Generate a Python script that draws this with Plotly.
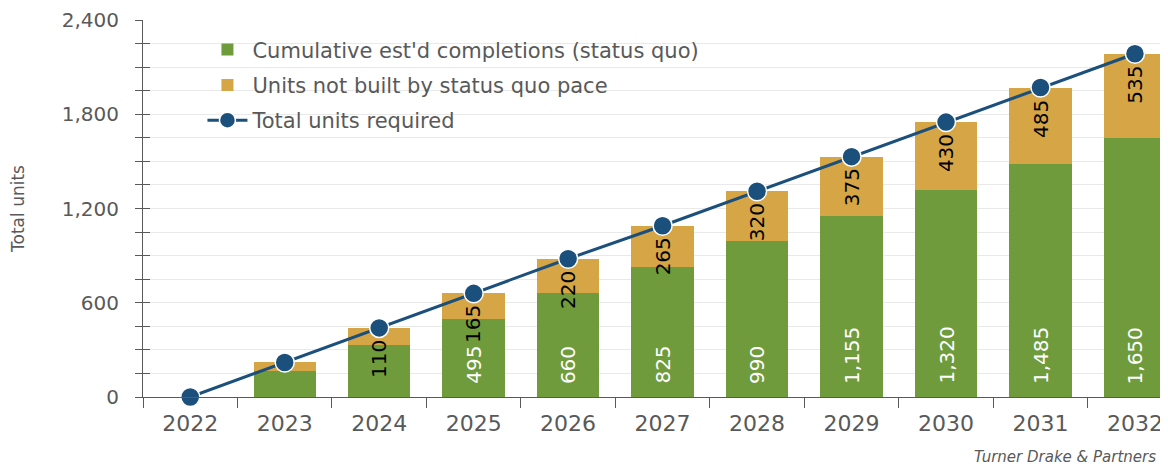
import plotly.graph_objects as go

years = ["2022", "2023", "2024", "2025", "2026", "2027", "2028", "2029", "2030", "2031", "2032"]
completions = [0, 165, 330, 495, 660, 825, 990, 1155, 1320, 1485, 1650]
not_built = [0, 55, 110, 165, 220, 265, 320, 375, 430, 485, 535]
required = [0, 220, 440, 660, 880, 1090, 1310, 1530, 1750, 1970, 2185]
completions_labels = ["", "", "", "495", "660", "825", "990", "1,155", "1,320", "1,485", "1,650"]
not_built_labels = ["", "", "110", "165", "220", "265", "320", "375", "430", "485", "535"]

green = "#6f9b3d"
gold = "#d5a546"
navy = "#1b4f7c"
grey = "#595959"
font = "DejaVu Sans, sans-serif"

fig = go.Figure()

fig.add_trace(
    go.Bar(
        x=years,
        y=completions,
        name="Cumulative est'd completions (status quo)",
        marker=dict(color=green, line=dict(width=0)),
        legendgroup="a"
    )
)

fig.add_trace(
    go.Bar(
        x=years,
        y=not_built,
        name="Units not built by status quo pace",
        marker=dict(color=gold, line=dict(width=0)),
        legendgroup="b"
    )
)

fig.add_trace(
    go.Scatter(
        x=years,
        y=required,
        mode="lines+markers",
        name="Total units required",
        line=dict(color=navy, width=3),
        marker=dict(color=navy, size=19, line=dict(color="white", width=1.5)),
        cliponaxis=False,
        legendgroup="c"
    )
)

# invisible trace so the overlay axis draws its inside ticks
fig.add_trace(
    go.Scatter(x=[years[0]], y=[0], yaxis="y2", mode="markers",
               marker=dict(opacity=0), showlegend=False, hoverinfo="skip")
)

# value labels, rotated (category axis -> annotation x is the index)
for i, yr in enumerate(years):
    if completions_labels[i]:
        fig.add_annotation(
            x=i, y=0, text=completions_labels[i],
            textangle=-90, showarrow=False,
            xanchor="center", yanchor="bottom", yshift=11,
            font=dict(family=font, size=20, color="white")
        )
    if not_built_labels[i]:
        fig.add_annotation(
            x=i, y=completions[i] + not_built[i], text=not_built_labels[i],
            textangle=-90, showarrow=False,
            xanchor="center", yanchor="top", yshift=-10,
            font=dict(family=font, size=20, color="black")
        )

fig.add_annotation(
    text="<i>Turner Drake & Partners</i>",
    xref="paper", yref="paper",
    x=0.99, y=-0.158,
    xanchor="right", yanchor="middle",
    showarrow=False,
    font=dict(family="DejaVu Sans", size=15, color=grey),
)

# page has an 8px body margin, so the figure is 8px smaller each way
fig.update_layout(
    width=1160,
    height=459,
    margin=dict(l=135, r=0, t=12, b=70),
    paper_bgcolor="white",
    plot_bgcolor="white",
    barmode="stack",
    bargap=0.34,
    font=dict(family=font, size=21, color=grey),
    showlegend=True,
    legend=dict(
        x=0.058,
        y=0.975,
        xanchor="left",
        yanchor="top",
        traceorder="grouped",
        tracegroupgap=5,
        bgcolor="rgba(255,255,255,0)",
        font=dict(size=21, color=grey),
        itemwidth=40
    ),
    xaxis=dict(
        type="category",
        range=[-0.5, 10.35],
        automargin=False,
        showline=True,
        linecolor=grey,
        linewidth=1,
        ticks="outside",
        tickson="boundaries",
        ticklen=10,
        tickcolor=grey,
        ticklabelstandoff=7,
        tickfont=dict(size=22, color=grey),
        showgrid=False
    ),
    yaxis=dict(
        range=[0, 2400],
        automargin=False,
        tickvals=[0, 600, 1200, 1800, 2400],
        tickformat=",",
        ticklabeloverflow="allow",
        showline=True,
        linecolor=grey,
        linewidth=1,
        ticks="outside",
        ticklen=7,
        tickcolor=grey,
        ticklabelstandoff=12,
        tickfont=dict(size=20, color=grey),
        showgrid=True,
        gridcolor="#e9e9e9",
        zeroline=False,
        minor=dict(dtick=150, ticks="outside", ticklen=7, tickcolor=grey,
                   showgrid=True, gridcolor="#e9e9e9"),
        title=dict(text="Total units", font=dict(size=17, color=grey), standoff=36)
    ),
    yaxis2=dict(
        range=[0, 2400],
        overlaying="y",
        side="left",
        automargin=False,
        showticklabels=False,
        showgrid=False,
        zeroline=False,
        ticks="inside",
        ticklen=7,
        tickcolor=grey,
        dtick=150
    )
)

fig.write_html("out.html")
